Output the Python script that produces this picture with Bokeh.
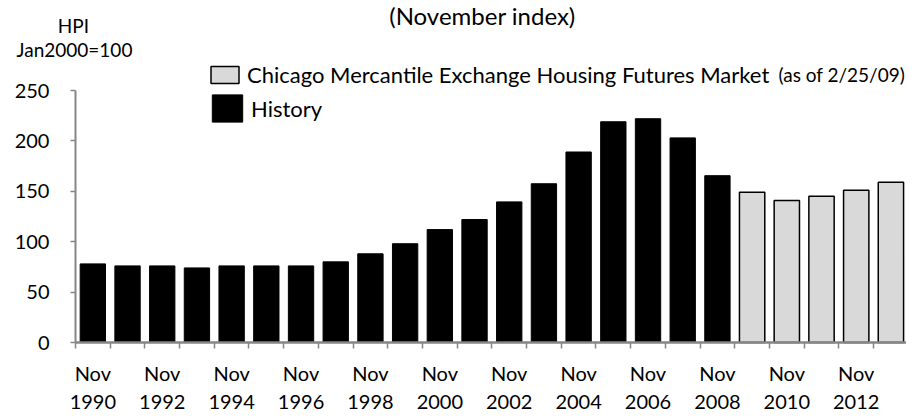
from bokeh.plotting import figure
from bokeh.models import (ColumnDataSource, FixedTicker, Legend, LegendItem, Label, Range1d)
from bokeh.embed import file_html
from bokeh.resources import INLINE

# ---- data ----
history_years = list(range(1990, 2009))
history_values = [78, 76, 76, 74, 76, 76, 76, 80, 88, 98, 112, 122, 139.5,
                  157.5, 189, 219, 222, 203, 165.5]
futures_years = [2009, 2010, 2011, 2012, 2013]
futures_values = [149, 141, 145, 151, 159]
label_years = list(range(1990, 2013, 2))
y_ticks = [0, 50, 100, 150, 200, 250]

title_text = "(November index)"
unit_line1 = "HPI"
unit_line2 = "Jan2000=100"
futures_name = "Chicago Mercantile Exchange Housing Futures Market"
futures_note = "(as of 2/25/09)"
history_name = "History"

first_year = history_years[0]
n_years = len(history_years) + len(futures_years)

FONT = "Lato"
AXIS_GREY = "#868686"

hist_src = ColumnDataSource(dict(x=[y - first_year for y in history_years], top=history_values))
fut_src = ColumnDataSource(dict(x=[y - first_year for y in futures_years], top=futures_values))

p = figure(width=906, height=412, output_backend="svg", toolbar_location=None,
           x_range=Range1d(-2.661, 23.449), y_range=Range1d(-69.44, 339.29),
           min_border_left=0, min_border_right=0, min_border_top=0, min_border_bottom=0)
p.outline_line_color = None
p.xgrid.visible = False
p.ygrid.visible = False
p.background_fill_color = "white"
p.border_fill_color = "white"

hist_r = p.vbar(x="x", top="top", width=0.73, source=hist_src,
                fill_color="black", line_color="black", line_width=1)
fut_r = p.vbar(x="x", top="top", width=0.73, source=fut_src,
               fill_color="#d9d9d9", line_color="black", line_width=1.5)

# y axis (pinned at the first category boundary)
ya = p.yaxis[0]
ya.fixed_location = -0.5
ya.bounds = (0, 250)
ya.ticker = FixedTicker(ticks=y_ticks, minor_ticks=[])
ya.axis_line_color = AXIS_GREY
ya.axis_line_width = 2
ya.major_tick_line_color = AXIS_GREY
ya.major_tick_line_width = 1.5
ya.major_tick_out = 5
ya.major_tick_in = 0
ya.minor_tick_line_color = None
ya.major_label_standoff = 21
ya.major_label_text_font = FONT
ya.major_label_text_font_size = "20px"
ya.major_label_text_color = "black"

# x axis (pinned at zero)
xa = p.xaxis[0]
xa.fixed_location = 0
xa.bounds = (-0.5, n_years - 0.5)
xa.ticker = FixedTicker(ticks=[y - first_year for y in label_years],
                        minor_ticks=[i - 0.5 for i in range(n_years + 1)])
xa.major_label_overrides = {y - first_year: f"Nov\n{y}" for y in label_years}
xa.axis_line_color = AXIS_GREY
xa.axis_line_width = 2.5
xa.major_tick_line_color = None
xa.minor_tick_line_color = AXIS_GREY
xa.minor_tick_line_width = 1.5
xa.minor_tick_out = 6
xa.minor_tick_in = 0
xa.major_tick_out = 6
xa.major_label_standoff = 12
xa.major_label_text_font = FONT
xa.major_label_text_font_size = "20px"
xa.major_label_text_color = "black"

# legends
leg1 = Legend(items=[LegendItem(label=futures_name, renderers=[fut_r])],
              location=(207, 324), glyph_width=35, glyph_height=21, label_height=21,
              label_standoff=5, padding=0, margin=0, spacing=0,
              border_line_color=None, background_fill_alpha=0,
              label_text_font=FONT, label_text_font_size="22px", label_text_color="black")
leg2 = Legend(items=[LegendItem(label=history_name, renderers=[hist_r])],
              location=(208, 287), glyph_width=38, glyph_height=34, label_height=34,
              label_standoff=5, padding=0, margin=0, spacing=0,
              border_line_color=None, background_fill_alpha=0,
              label_text_font=FONT, label_text_font_size="22px", label_text_color="black")
p.add_layout(leg1, "center")
p.add_layout(leg2, "center")

p.add_layout(Label(x=19.76, y=265.9, text=futures_note, text_font=FONT, text_font_size="19px",
                   text_baseline="middle", text_align="left", text_color="black"))
p.add_layout(Label(x=-0.558, y=314.5, text=unit_line1, text_font=FONT, text_font_size="19px",
                   text_baseline="middle", text_align="center", text_color="black"))
p.add_layout(Label(x=-0.529, y=290.7, text=unit_line2, text_font=FONT, text_font_size="19px",
                   text_baseline="middle", text_align="center", text_color="black"))
p.add_layout(Label(x=11.23, y=339.29, text=title_text, text_font=FONT, text_font_size="24px",
                   text_baseline="top", text_align="center", text_color="black"))

open("out.html", "w").write(file_html(p, INLINE))
